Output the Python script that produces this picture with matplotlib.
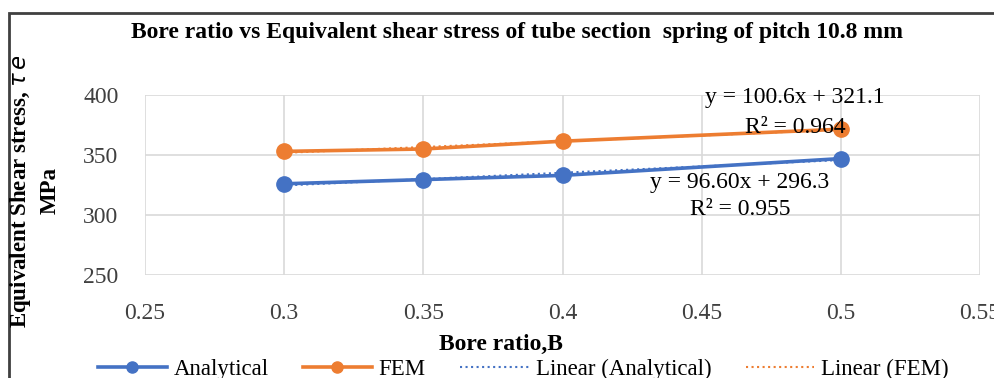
import numpy as np
import matplotlib as mpl
mpl.use('Agg')
import matplotlib.pyplot as plt
from matplotlib.patches import Rectangle
from matplotlib.lines import Line2D

plt.rcParams['font.family'] = ['Liberation Serif', 'DejaVu Serif']

bore = [0.3, 0.35, 0.4, 0.5]
analytical = [326, 329.5, 333, 347]
fem = [353, 355, 361.5, 371.5]
xticks = [0.25, 0.3, 0.35, 0.4, 0.45, 0.5, 0.55]
yticks = [250, 300, 350, 400]

blue = '#4472C4'
orange = '#ED7D31'

fig = plt.figure(figsize=(9.95, 3.78), dpi=100)
ax = fig.add_axes([0.1457, 0.2725, 0.8393, 0.4762])

ax.plot(bore, analytical, color=blue, lw=2.6, marker='o', ms=11, label='Analytical')
ax.plot(bore, fem, color=orange, lw=2.6, marker='o', ms=11, label='FEM')

# trendlines
xs = np.array([bore[0], bore[-1]])
pa = np.polyfit(bore, analytical, 1)
pf = np.polyfit(bore, fem, 1)
ax.plot(xs, np.polyval(pa, xs), color=blue, lw=1.5, ls=':', label='Linear (Analytical)')
ax.plot(xs, np.polyval(pf, xs), color=orange, lw=1.5, ls=':', label='Linear (FEM)')

ax.set_xlim(0.25, 0.55)
ax.set_ylim(250, 400)
ax.set_xticks(xticks)
ax.set_xticklabels(['0.25', '0.3', '0.35', '0.4', '0.45', '0.5', '0.55'])
ax.set_yticks(yticks)
ax.grid(True, color='#d9d9d9', lw=1.2)
ax.set_axisbelow(True)
for s in ax.spines.values():
    s.set_visible(False)
ax.tick_params(length=0, labelsize=17, colors='#404040')
ax.tick_params(axis='y', pad=19)
ax.tick_params(axis='x', pad=20)

ax.text(0.4835, 397.5, 'y = 100.6x + 321.1', fontsize=17, ha='center', va='center')
ax.text(0.4835, 373.3, 'R² = 0.964', fontsize=17, ha='center', va='center')
ax.text(0.4638, 326.7, 'y = 96.60x + 296.3', fontsize=17, ha='center', va='center')
ax.text(0.4638, 304.2, 'R² = 0.955', fontsize=17, ha='center', va='center')

fig.text(0.52, 0.915, 'Bore ratio vs Equivalent shear stress of tube section  spring of pitch 10.8 mm',
         ha='center', va='center', fontsize=17, fontweight='bold')
fig.text(0.503, 0.088, 'Bore ratio,B', ha='center', va='center', fontsize=17, fontweight='bold')
fig.text(0.021, 0.495, 'Equivalent Shear stress, $\\tau\\, e$', rotation=90, ha='center', va='center',
         fontsize=16.5, fontweight='bold')
fig.text(0.05, 0.495, 'MPa', rotation=90, ha='center', va='center', fontsize=16.5, fontweight='bold')

handles = [
    Line2D([], [], color=blue, lw=2.6, marker='o', ms=8),
    Line2D([], [], color=orange, lw=2.6, marker='o', ms=8),
    Line2D([], [], color=blue, lw=1.5, ls=':'),
    Line2D([], [], color=orange, lw=1.5, ls=':'),
]
fig.legend(handles, ['Analytical', 'FEM', 'Linear (Analytical)', 'Linear (FEM)'],
           loc='center', bbox_to_anchor=(0.526, 0.022), ncol=4, frameon=False,
           fontsize=16.5, handlelength=3.0, handletextpad=0.3, columnspacing=1.5)

# chart border, cut off at right and bottom like the reference
fig.patches.append(Rectangle((0.009, -0.1), 1.2, 1.065, transform=fig.transFigure,
                             fill=False, edgecolor='#404040', lw=2))

fig.savefig('out.png', dpi=100)
